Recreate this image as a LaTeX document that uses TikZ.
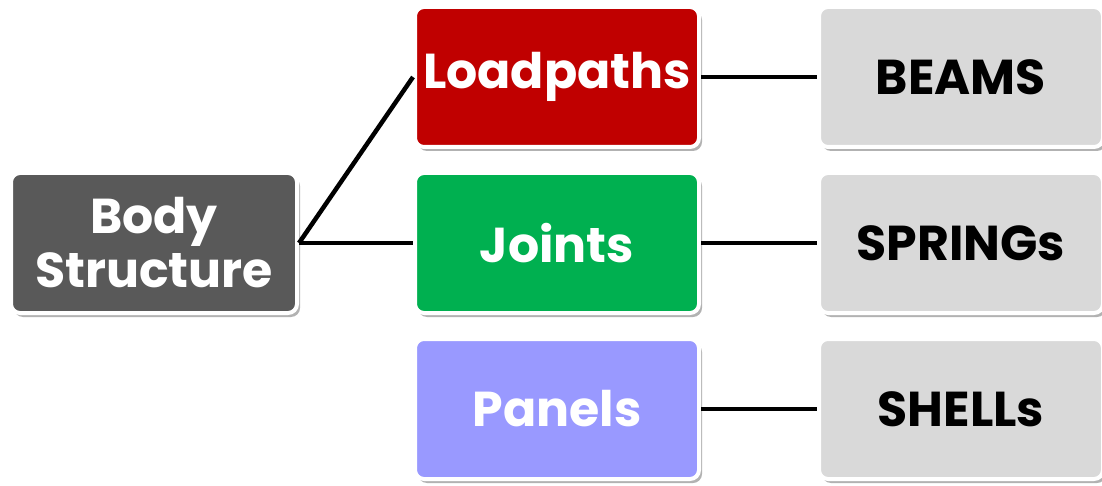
\documentclass[tikz,border=0pt]{standalone}
\usepackage{fontspec}
\setmainfont{Poppins}
\usetikzlibrary{shadows}
\definecolor{bodyc}{HTML}{595959}
\definecolor{loadc}{HTML}{C00000}
\definecolor{jointc}{HTML}{00B050}
\definecolor{panelc}{HTML}{9999FF}
\definecolor{greyc}{HTML}{D9D9D9}
\begin{document}
\begin{tikzpicture}[x=1pt,y=-1pt,
  box/.style={draw=white, line width=4pt, rounded corners=9pt,
    minimum width=284pt, minimum height=140pt, align=center,
    font=\fontsize{49}{58}\selectfont\bfseries,
    drop shadow={shadow xshift=3pt, shadow yshift=-4pt, opacity=0.3, fill=black}},
  colbox/.style={box, fill=#1, text=white},
  greybox/.style={box, fill=greyc, text=black},
  link/.style={line width=4.5pt, black}]
\useasboundingbox (0,0) rectangle (1102,486);
\node[colbox=bodyc, minimum width=286pt] (body) at (154,243) {Body\\[-4pt]Structure};
\node[colbox=loadc] (load) at (557,77) {Loadpaths};
\node[colbox=jointc] (joints) at (557,243) {Joints};
\node[colbox=panelc] (panels) at (557,409) {Panels};
\node[greybox] (beams) at (961,77) {BEAMS};
\node[greybox] (springs) at (961,243) {SPRINGs};
\node[greybox] (shells) at (961,409) {SHELLs};
\draw[link] (body.east) -- (load.west);
\draw[link] (body.east) -- (joints.west);
\draw[link] (load.east) -- (beams.west);
\draw[link] (joints.east) -- (springs.west);
\draw[link] (panels.east) -- (shells.west);
\end{tikzpicture}
\end{document}
